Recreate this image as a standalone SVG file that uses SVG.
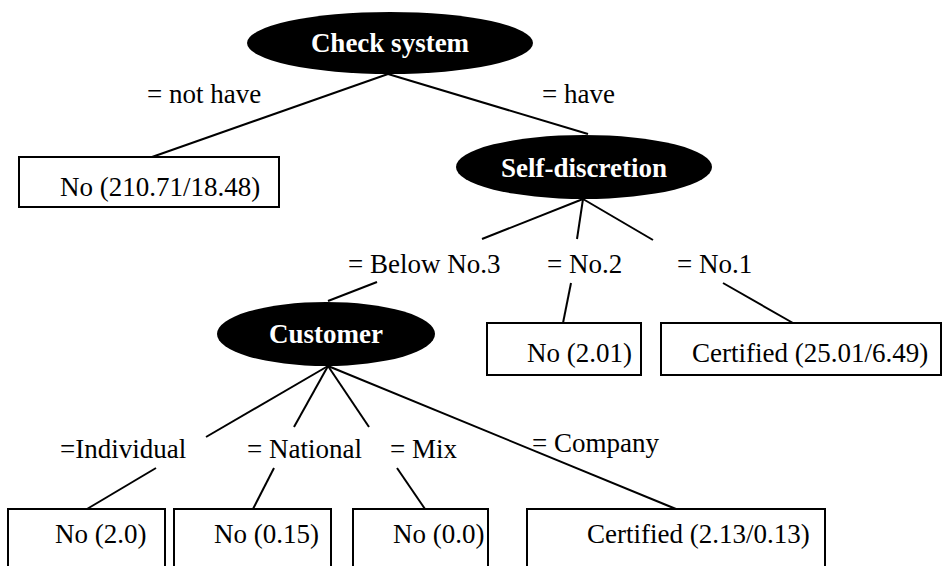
<svg xmlns="http://www.w3.org/2000/svg" width="942" height="566" viewBox="0 0 942 566">
<rect width="942" height="566" fill="#fff"/>
<g id="connectors" stroke="#000" stroke-width="2" fill="none">
<line x1="388" y1="74" x2="152" y2="157"/>
<line x1="388" y1="74" x2="588" y2="134"/>
<line x1="583" y1="199" x2="482" y2="239"/>
<line x1="583" y1="199" x2="577" y2="239"/>
<line x1="583" y1="199" x2="653" y2="240"/>
<line x1="571" y1="283" x2="563" y2="323"/>
<line x1="723" y1="283" x2="793" y2="323"/>
<line x1="377" y1="282" x2="328" y2="301"/>
<line x1="328" y1="366" x2="206" y2="437"/>
<line x1="328" y1="366" x2="294" y2="427"/>
<line x1="328" y1="366" x2="369" y2="427"/>
<line x1="328" y1="366" x2="676" y2="509"/>
<line x1="156" y1="468" x2="87" y2="509"/>
<line x1="274" y1="468" x2="253" y2="509"/>
<line x1="397" y1="468" x2="425" y2="509"/>
</g>
<g id="edge-labels">
<text x="147" y="103" font-family="Times New Roman" font-size="27" fill="#000">= not have</text>
<text x="542" y="103" font-family="Times New Roman" font-size="27" fill="#000">= have</text>
<text x="348" y="273" font-family="Times New Roman" font-size="27" fill="#000">= Below No.3</text>
<text x="547" y="273" font-family="Times New Roman" font-size="27" fill="#000">= No.2</text>
<text x="677" y="273" font-family="Times New Roman" font-size="27" fill="#000">= No.1</text>
<text x="60" y="458" font-family="Times New Roman" font-size="27" fill="#000">=Individual</text>
<text x="247" y="458" font-family="Times New Roman" font-size="27" fill="#000">= National</text>
<text x="390" y="458" font-family="Times New Roman" font-size="27" fill="#000">= Mix</text>
<text x="532" y="452" font-family="Times New Roman" font-size="27" fill="#000">= Company</text>
</g>
<g id="n-check-system">
<ellipse cx="390" cy="43" rx="143" ry="31" fill="#000"/>
<text x="390" y="52" font-family="Times New Roman" font-size="27" font-weight="bold" fill="#fff" text-anchor="middle">Check system</text>
</g>
<g id="n-leaf-1">
<rect x="19" y="157" width="260" height="50" fill="#fff" stroke="#000" stroke-width="2"/>
<text x="60" y="196" font-family="Times New Roman" font-size="27" fill="#000">No (210.71/18.48)</text>
</g>
<g id="n-self-discretion">
<ellipse cx="584" cy="167" rx="128" ry="32" fill="#000"/>
<text x="584" y="177" font-family="Times New Roman" font-size="27" font-weight="bold" fill="#fff" text-anchor="middle">Self-discretion</text>
</g>
<g id="n-leaf-2">
<rect x="487" y="323" width="154" height="52" fill="#fff" stroke="#000" stroke-width="2"/>
<text x="527" y="362" font-family="Times New Roman" font-size="27" fill="#000">No (2.01)</text>
</g>
<g id="n-leaf-3">
<rect x="661" y="323" width="280" height="52" fill="#fff" stroke="#000" stroke-width="2"/>
<text x="692" y="362" font-family="Times New Roman" font-size="27" fill="#000">Certified (25.01/6.49)</text>
</g>
<g id="n-customer">
<ellipse cx="326" cy="334" rx="109" ry="32" fill="#000"/>
<text x="326" y="343" font-family="Times New Roman" font-size="27" font-weight="bold" fill="#fff" text-anchor="middle">Customer</text>
</g>
<g id="n-leaf-4">
<rect x="8" y="509" width="157" height="70" fill="#fff" stroke="#000" stroke-width="2"/>
<text x="55" y="543" font-family="Times New Roman" font-size="27" fill="#000">No (2.0)</text>
</g>
<g id="n-leaf-5">
<rect x="174" y="509" width="157" height="70" fill="#fff" stroke="#000" stroke-width="2"/>
<text x="214" y="543" font-family="Times New Roman" font-size="27" fill="#000">No (0.15)</text>
</g>
<g id="n-leaf-6">
<rect x="353" y="509" width="135" height="70" fill="#fff" stroke="#000" stroke-width="2"/>
<text x="393" y="543" font-family="Times New Roman" font-size="27" fill="#000">No (0.0)</text>
</g>
<g id="n-leaf-7">
<rect x="527" y="509" width="298" height="70" fill="#fff" stroke="#000" stroke-width="2"/>
<text x="587" y="543" font-family="Times New Roman" font-size="27" fill="#000">Certified (2.13/0.13)</text>
</g>
</svg>
